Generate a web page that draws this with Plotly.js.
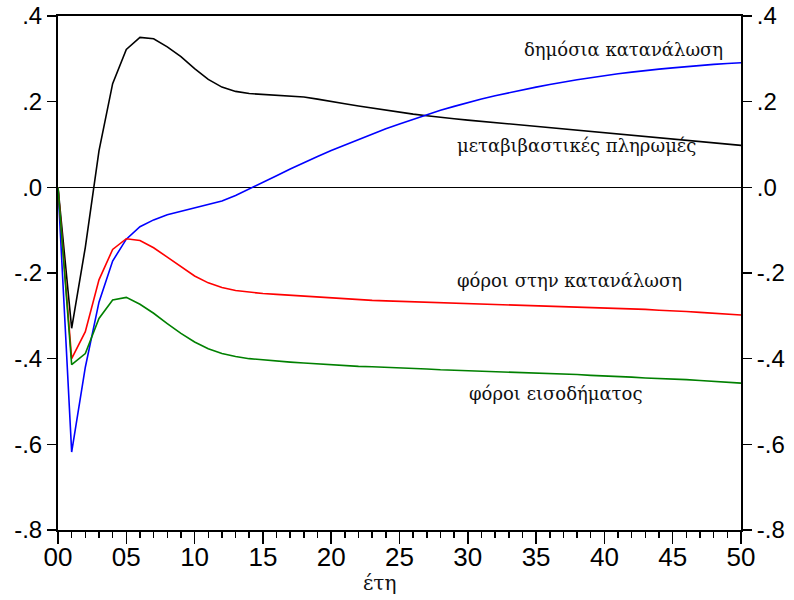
<!DOCTYPE html>
<html>
<head>
<meta charset="utf-8">
<script src="https://cdn.plot.ly/plotly-3.0.1.min.js"></script>
<style>html,body{margin:0;padding:0;background:#fff;}#chart{width:794px;height:600px;}</style>
</head>
<body>
<div id="chart"></div>
<script>
const years = Array.from({length: 51}, (_, i) => i);

const publicConsumption = [0, -0.329, -0.14, 0.085, 0.242, 0.322, 0.350, 0.347, 0.328, 0.305,
  0.277, 0.252, 0.234, 0.224, 0.219, 0.217, 0.216, 0.214, 0.211, 0.206,
  0.200, 0.195, 0.190, 0.185, 0.180, 0.175, 0.171, 0.167, 0.163, 0.160,
  0.157, 0.154, 0.151, 0.148, 0.145, 0.142, 0.139, 0.136, 0.133, 0.130,
  0.127, 0.124, 0.121, 0.118, 0.115, 0.112, 0.109, 0.106, 0.104, 0.101, 0.098];

const transfers = [0, -0.618, -0.42, -0.268, -0.172, -0.121, -0.092, -0.076, -0.064, -0.056,
  -0.048, -0.041, -0.032, -0.019, -0.004, 0.011, 0.027, 0.043, 0.058, 0.072,
  0.086, 0.099, 0.112, 0.125, 0.137, 0.148, 0.159, 0.170, 0.180, 0.189,
  0.198, 0.206, 0.214, 0.221, 0.228, 0.234, 0.240, 0.246, 0.251, 0.256,
  0.261, 0.265, 0.269, 0.273, 0.276, 0.279, 0.282, 0.285, 0.287, 0.289, 0.291];

const consumptionTax = [0, -0.40, -0.337, -0.216, -0.145, -0.12, -0.124, -0.141, -0.163, -0.185,
  -0.207, -0.223, -0.234, -0.241, -0.245, -0.248, -0.250, -0.252, -0.254, -0.256,
  -0.259, -0.261, -0.263, -0.264, -0.265, -0.266, -0.267, -0.268, -0.269, -0.270,
  -0.271, -0.272, -0.273, -0.274, -0.275, -0.276, -0.277, -0.278, -0.279, -0.280,
  -0.282, -0.283, -0.284, -0.285, -0.287, -0.288, -0.290, -0.292, -0.294, -0.296, -0.298];

const incomeTax = [0, -0.414, -0.388, -0.306, -0.263, -0.257, -0.273, -0.294, -0.318, -0.341,
  -0.361, -0.377, -0.388, -0.395, -0.400, -0.403, -0.406, -0.408, -0.410, -0.412,
  -0.415, -0.417, -0.418, -0.419, -0.420, -0.422, -0.423, -0.424, -0.426, -0.427,
  -0.428, -0.429, -0.430, -0.431, -0.432, -0.434, -0.435, -0.436, -0.437, -0.439,
  -0.440, -0.442, -0.443, -0.445, -0.446, -0.448, -0.449, -0.451, -0.453, -0.455, -0.457];

const xTickVals = [0, 5, 10, 15, 20, 25, 30, 35, 40, 45, 50];
const xTickText = ["00", "05", "10", "15", "20", "25", "30", "35", "40", "45", "50"];
const yTickVals = [0.4, 0.2, 0.0, -0.2, -0.4, -0.6, -0.8];
const yTickText = [".4", ".2", ".0", "-.2", "-.4", "-.6", "-.8"];

const labels = [
  {text: "δημόσια κατανάλωση", x: 33.95, y: 0.321},
  {text: "μεταβιβαστικές πληρωμές", x: 29.06, y: 0.097},
  {text: "φόροι στην κατανάλωση", x: 29.06, y: -0.218},
  {text: "φόροι εισοδήματος", x: 29.93, y: -0.482}
];
const xTitle = "έτη";

const lineW = 1.6;
const traces = [
  {x: years, y: publicConsumption, mode: "lines", line: {color: "#000000", width: lineW}, name: "s1"},
  {x: years, y: transfers, mode: "lines", line: {color: "#0000ff", width: lineW}, name: "s2"},
  {x: years, y: consumptionTax, mode: "lines", line: {color: "#ff0000", width: lineW}, name: "s3"},
  {x: years, y: incomeTax, mode: "lines", line: {color: "#008000", width: lineW}, name: "s4"},
  {x: [], y: [], yaxis: "y2", mode: "lines", showlegend: false, hoverinfo: "skip"}
];

const tickFontX = {family: "'Liberation Sans', Arial, sans-serif", size: 26, color: "#000"};
const tickFontY = {family: "'Liberation Sans', Arial, sans-serif", size: 24, color: "#000"};
const serifFamily = "DejaVu Serif";
const serif = {family: serifFamily, size: 18, color: "#111"};

const annotations = labels.map(l => ({
  text: l.text, x: l.x, y: l.y, xref: "x", yref: "y",
  xanchor: "left", yanchor: "middle", showarrow: false, font: serif
}));
annotations.push({text: xTitle, x: 23.5, y: -0.103, xref: "x", yref: "paper",
  xanchor: "center", yanchor: "middle", showarrow: false,
  font: {family: serifFamily, size: 20, color: "#111"}});

const layout = {
  width: 794, height: 600,
  margin: {l: 57.5, r: 52.5, t: 16, b: 69.5, pad: 0},
  paper_bgcolor: "#ffffff", plot_bgcolor: "#ffffff",
  showlegend: false,
  xaxis: {
    range: [0, 50], tickvals: xTickVals, ticktext: xTickText,
    ticks: "outside", ticklen: 12, tickwidth: 1.5, tickcolor: "#000",
    minor: {dtick: 1, ticks: "outside", ticklen: 6, tickwidth: 1.5, tickcolor: "#000", showgrid: false},
    showgrid: false, zeroline: false,
    showline: true, linecolor: "#000", linewidth: 2, mirror: true,
    tickfont: tickFontX, ticklabelstandoff: -9
  },
  yaxis: {
    range: [-0.8, 0.4], tickvals: yTickVals, ticktext: yTickText,
    ticks: "outside", ticklen: 9, tickwidth: 1.5, tickcolor: "#000",
    showgrid: false, zeroline: true, zerolinecolor: "#000", zerolinewidth: 1,
    showline: true, linecolor: "#000", linewidth: 2, mirror: true,
    tickfont: tickFontY
  },
  yaxis2: {
    range: [-0.8, 0.4], tickvals: yTickVals, ticktext: yTickText,
    overlaying: "y", side: "right",
    ticks: "outside", ticklen: 10, tickwidth: 1.5, tickcolor: "#000",
    showgrid: false, zeroline: false, showline: false,
    tickfont: tickFontY
  },
  annotations: annotations
};

Plotly.newPlot("chart", traces, layout, {staticPlot: true, displayModeBar: false});
</script>
</body>
</html>
